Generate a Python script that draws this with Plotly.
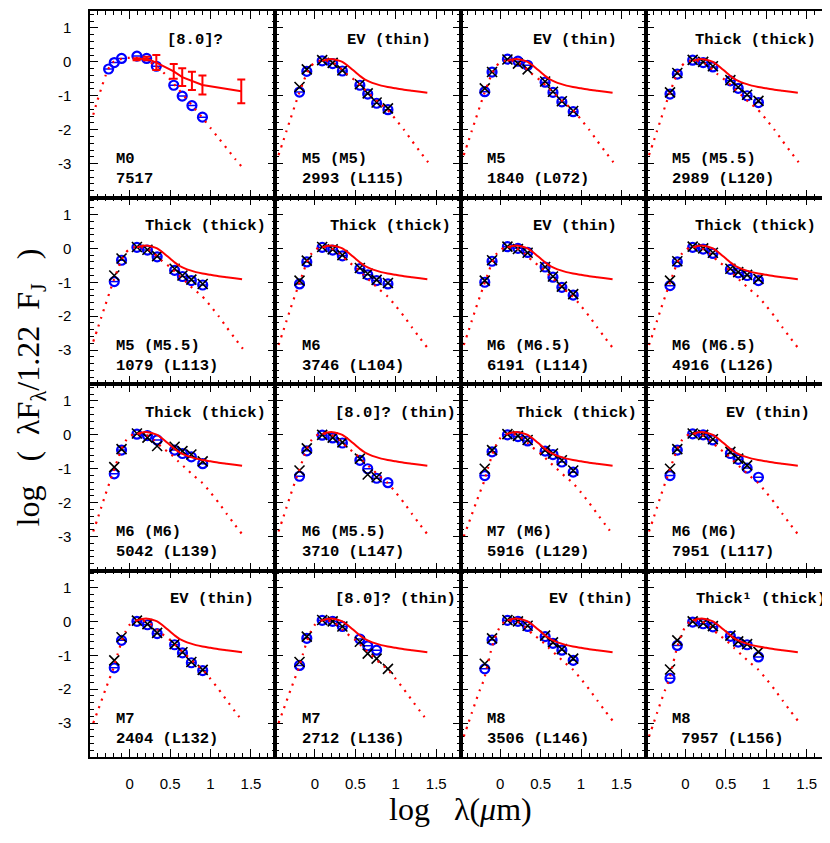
import plotly.graph_objects as go
from plotly.subplots import make_subplots

# ---------------- data ----------------
band_x = [-0.19, -0.10, 0.09, 0.22, 0.34, 0.556, 0.653, 0.763, 0.903]

m0_x = [-0.26, -0.19, -0.10, 0.09, 0.21, 0.33, 0.545, 0.65, 0.77, 0.90]
m0_y = [-0.21, -0.02, 0.10, 0.17, 0.10, -0.13, -0.69, -1.01, -1.29, -1.63]

# median disk SED of panel 1 (with error bars)
m0_med_x = [0.086, 0.21, 0.33, 0.545, 0.65, 0.77, 0.90, 1.38]
m0_med_y = [0.08, 0.10, -0.02, -0.28, -0.45, -0.56, -0.68, -0.87]
m0_med_err = [0.03, 0.05, 0.22, 0.22, 0.26, 0.27, 0.28, 0.35]

# median disk SED (solid red)
med_x = [0.09, 0.15, 0.22, 0.28, 0.34, 0.40, 0.45, 0.50, 0.56, 0.62, 0.68, 0.75,
         0.82, 0.90, 1.00, 1.10, 1.20, 1.30, 1.39]
med_y = [0.03, 0.07, 0.08, 0.05, 0.00, -0.10, -0.20, -0.30, -0.42, -0.52, -0.59,
         -0.65, -0.70, -0.74, -0.78, -0.82, -0.85, -0.88, -0.91]

# photospheres (dotted red)
phot_x = [-0.45, -0.40, -0.35, -0.30, -0.25, -0.20, -0.15, -0.10, -0.05, 0.00, 0.05,
          0.10, 0.15, 0.20, 0.25, 0.30, 0.35, 0.40, 0.50, 0.60, 0.70, 0.80, 0.90,
          1.00, 1.10, 1.20, 1.30, 1.40]
phot_M0 = [-1.56, -1.15, -0.78, -0.42, -0.15, 0.00, 0.06, 0.09, 0.11, 0.12, 0.12,
           0.11, 0.09, 0.05, -0.01, -0.08, -0.16, -0.27, -0.52, -0.80, -1.08, -1.37,
           -1.65, -1.95, -2.25, -2.55, -2.85, -3.13]
phot_M5 = [-2.75, -2.40, -2.03, -1.67, -1.31, -0.96, -0.64, -0.34, -0.13, -0.02, 0.03,
           0.04, 0.03, 0.00, -0.06, -0.15, -0.26, -0.37, -0.55, -0.78, -1.00, -1.22,
           -1.42, -1.70, -2.00, -2.33, -2.65, -2.96]
phot_M6 = [-2.85, -2.50, -2.13, -1.77, -1.42, -1.08, -0.74, -0.42, -0.18, -0.05, 0.02,
           0.04, 0.03, 0.00, -0.06, -0.15, -0.26, -0.37, -0.55, -0.78, -1.00, -1.22,
           -1.42, -1.70, -2.00, -2.33, -2.65, -2.96]
phot_M7 = [-3.00, -2.68, -2.35, -2.02, -1.70, -1.38, -0.98, -0.60, -0.30, -0.10, 0.00,
           0.03, 0.03, 0.00, -0.06, -0.15, -0.26, -0.37, -0.55, -0.78, -1.00, -1.22,
           -1.42, -1.70, -2.00, -2.33, -2.65, -2.96]
phot_M8 = [-3.40, -3.05, -2.70, -2.35, -2.02, -1.72, -1.22, -0.75, -0.40, -0.15, -0.02,
           0.02, 0.02, 0.00, -0.06, -0.15, -0.26, -0.37, -0.55, -0.78, -1.00, -1.22,
           -1.42, -1.70, -2.00, -2.33, -2.65, -2.96]

# observed (blue circles) and other photometry (black crosses), per source
obs_2993 = [-0.89, -0.28, 0.03, -0.05, -0.27, -0.69, -0.95, -1.22, -1.41]
crs_2993 = [-0.74, -0.22, 0.05, -0.03, -0.25, -0.66, -0.93, -1.20, -1.37]
obs_1840 = [-0.88, -0.30, 0.08, 0.02, -0.10, -0.60, -0.90, -1.18, -1.47]
crs_1840 = [-0.78, -0.30, 0.07, -0.05, -0.22, -0.58, -0.88, -1.16, -1.45]
obs_2989 = [-0.95, -0.36, 0.05, -0.02, -0.15, -0.56, -0.78, -1.00, -1.20]
crs_2989 = [-0.90, -0.33, 0.06, 0.00, -0.13, -0.54, -0.75, -0.97, -1.15]
obs_1079 = [-0.98, -0.35, 0.03, -0.05, -0.25, -0.65, -0.83, -0.95, -1.08]
crs_1079 = [-0.80, -0.30, 0.04, -0.04, -0.23, -0.60, -0.80, -0.92, -1.05]
obs_3746 = [-1.05, -0.40, 0.03, -0.05, -0.22, -0.60, -0.78, -0.95, -1.05]
crs_3746 = [-0.95, -0.36, 0.04, -0.03, -0.20, -0.58, -0.75, -0.93, -1.02]
obs_6191 = [-1.00, -0.38, 0.05, 0.00, -0.12, -0.55, -0.85, -1.15, -1.38]
crs_6191 = [-0.95, -0.35, 0.05, -0.02, -0.13, -0.55, -0.83, -1.13, -1.35]
obs_4916 = [-1.10, -0.40, 0.03, -0.02, -0.15, -0.62, -0.72, -0.80, -0.95]
crs_4916 = [-0.95, -0.38, 0.05, 0.00, -0.13, -0.60, -0.70, -0.78, -0.90]
obs_5042 = [-1.15, -0.45, 0.02, -0.02, -0.15, -0.45, -0.55, -0.65, -0.85]
crs_5042 = [-0.95, -0.42, 0.04, -0.08, -0.33, -0.35, -0.48, -0.58, -0.78]
obs_3710 = [-1.22, -0.47, -0.01, -0.09, -0.24, -0.75, -1.00, -1.28, -1.41]
crs_3710 = [-1.05, -0.40, 0.00, -0.08, -0.22, -0.70, -1.17, -1.25, None]
obs_5916 = [-1.20, -0.50, 0.00, -0.05, -0.18, -0.48, -0.58, -0.80, -1.10]
crs_5916 = [-1.00, -0.45, 0.02, -0.03, -0.15, -0.45, -0.55, -0.75, -1.05]
obs_7951 = [-1.20, -0.45, 0.03, 0.00, -0.15, -0.55, -0.72, -0.98, -1.25]
crs_7951 = [-1.00, -0.42, 0.04, 0.00, -0.13, -0.50, -0.70, -0.90, None]
obs_2404 = [-1.37, -0.56, 0.00, -0.10, -0.36, -0.69, -0.93, -1.22, -1.45]
crs_2404 = [-1.15, -0.47, 0.02, -0.08, -0.34, -0.67, -0.91, -1.20, -1.43]
obs_2712 = [-1.30, -0.50, 0.03, 0.00, -0.15, -0.52, -0.72, -0.85, None]
crs_2712 = [-1.20, -0.45, 0.04, 0.00, -0.15, -0.60, -0.95, -1.10, -1.40]
obs_3506 = [-1.40, -0.55, 0.03, 0.00, -0.15, -0.45, -0.65, -0.85, -1.15]
crs_3506 = [-1.25, -0.50, 0.04, 0.00, -0.13, -0.42, -0.62, -0.82, -1.10]
obs_7957 = [-1.68, -0.71, -0.02, -0.07, -0.16, -0.44, -0.61, -0.69, -1.05]
crs_7957 = [-1.42, -0.56, 0.00, -0.05, -0.14, -0.42, -0.59, -0.67, -0.90]

top_labels = ["[8.0]?", "EV (thin)", "EV (thin)", "Thick (thick)",
              "Thick (thick)", "Thick (thick)", "EV (thin)", "Thick (thick)",
              "Thick (thick)", "[8.0]? (thin)", "Thick (thick)", "EV (thin)",
              "EV (thin)", "[8.0]? (thin)", "EV (thin)", "Thick\u00b9 (thick)"]
type_labels = ["M0", "M5 (M5)", "M5", "M5 (M5.5)",
               "M5 (M5.5)", "M6", "M6 (M6.5)", "M6 (M6.5)",
               "M6 (M6)", "M6 (M5.5)", "M7 (M6)", "M6 (M6)",
               "M7", "M7", "M8", "M8"]
id_labels = ["7517", "2993 (L115)", "1840 (L072)", "2989 (L120)",
             "1079 (L113)", "3746 (L104)", "6191 (L114)", "4916 (L126)",
             "5042 (L139)", "3710 (L147)", "5916 (L129)", "7951 (L117)",
             "2404 (L132)", "2712 (L136)", "3506 (L146)", "\u00a07957 (L156)"]
y_ticks = [1, 0, -1, -2, -3]
y_ticktext = ["1", "0", "-1", "-2", "-3"]
x_ticks = [0, 0.5, 1, 1.5]
x_ticktext = ["0", "0.5", "1", "1.5"]

phot_sets = [phot_M0, phot_M5, phot_M5, phot_M5,
             phot_M5, phot_M6, phot_M6, phot_M6,
             phot_M6, phot_M6, phot_M7, phot_M6,
             phot_M7, phot_M7, phot_M8, phot_M8]
obs_sets = [None, obs_2993, obs_1840, obs_2989, obs_1079, obs_3746, obs_6191, obs_4916,
            obs_5042, obs_3710, obs_5916, obs_7951, obs_2404, obs_2712, obs_3506, obs_7957]
crs_sets = [None, crs_2993, crs_1840, crs_2989, crs_1079, crs_3746, crs_6191, crs_4916,
            crs_5042, crs_3710, crs_5916, crs_7951, crs_2404, crs_2712, crs_3506, crs_7957]

# label x-centres (data units) for the top-right labels
top_label_x = [0.81, 0.92, 0.92, 0.87, 0.94, 0.93, 0.92, 0.87,
               0.94, 1.00, 0.95, 1.02, 1.02, 1.00, 1.12, 0.94]

# ---------------- figure ----------------
RED = "#ff0000"
BLUE = "#0000ff"
XR = [-0.49, 1.8]
YR = [-4.0, 1.5]
TXT_FONT = dict(family="Liberation Mono, DejaVu Sans Mono, monospace", size=15.5,
                color="black", weight="bold")

fig = make_subplots(rows=4, cols=4, horizontal_spacing=0, vertical_spacing=0)

for i in range(16):
    r, c = i // 4 + 1, i % 4 + 1
    if i == 0:
        ox, oy = m0_x, m0_y
    else:
        ox, oy = band_x, obs_sets[i]
    # blue circles
    fig.add_trace(go.Scatter(x=ox, y=oy, mode="markers",
                             marker=dict(symbol="circle-open", size=9, color=BLUE,
                                         line=dict(width=2.2, color=BLUE))), row=r, col=c)
    fig.add_trace(go.Scatter(x=ox, y=oy, mode="markers",
                             marker=dict(symbol="line-ew-open", size=6, color=BLUE,
                                         line=dict(width=1.5, color=BLUE))), row=r, col=c)
    if crs_sets[i] is not None:
        fig.add_trace(go.Scatter(x=band_x, y=crs_sets[i], mode="markers",
                                 marker=dict(symbol="x-thin-open", size=10, color="black",
                                             line=dict(width=1.6, color="black"))), row=r, col=c)
    # photosphere
    fig.add_trace(go.Scatter(x=phot_x, y=phot_sets[i], mode="lines",
                             line=dict(color=RED, width=2.2, dash="2px,6px", shape="spline",
                                       smoothing=0.6)), row=r, col=c)
    # median disk
    if i == 0:
        fig.add_trace(go.Scatter(x=m0_med_x, y=m0_med_y, mode="lines",
                                 line=dict(color=RED, width=2),
                                 error_y=dict(type="data", array=m0_med_err, visible=True,
                                              color=RED, thickness=2, width=4)),
                      row=r, col=c)
    else:
        fig.add_trace(go.Scatter(x=med_x, y=med_y, mode="lines",
                                 line=dict(color=RED, width=2, shape="spline", smoothing=0.5)),
                      row=r, col=c)

    axn = "" if i == 0 else str(i + 1)
    fig.add_annotation(x=top_label_x[i], y=0.645, xref="x" + axn, yref="y" + axn,
                       text=top_labels[i], showarrow=False, xanchor="center",
                       yanchor="middle", font=TXT_FONT)
    fig.add_annotation(x=-0.19, y=-2.87, xref="x" + axn, yref="y" + axn,
                       text=type_labels[i], showarrow=False, xanchor="left",
                       yanchor="middle", font=TXT_FONT)
    fig.add_annotation(x=-0.19, y=-3.46, xref="x" + axn, yref="y" + axn,
                       text=id_labels[i], showarrow=False, xanchor="left",
                       yanchor="middle", font=TXT_FONT)

tick_font = dict(family="Liberation Sans, Arial, sans-serif", size=15, color="black")
fig.update_xaxes(range=XR, showline=True, mirror="allticks", linecolor="black", linewidth=1.5,
                 ticks="inside", ticklen=8, tickwidth=1.2, tickcolor="black",
                 tickmode="array", tickvals=x_ticks, ticktext=x_ticktext,
                 minor=dict(ticks="inside", ticklen=4, tickwidth=1, tickcolor="black",
                            tickmode="linear", tick0=0, dtick=0.1),
                 showgrid=False, zeroline=False, showticklabels=False, tickfont=tick_font,
                 ticklabelstandoff=12, automargin=False)
fig.update_yaxes(range=YR, showline=True, mirror="allticks", linecolor="black", linewidth=1.5,
                 ticks="inside", ticklen=8, tickwidth=1.2, tickcolor="black",
                 tickmode="array", tickvals=y_ticks, ticktext=y_ticktext,
                 minor=dict(ticks="inside", ticklen=4, tickwidth=1, tickcolor="black",
                            tickmode="linear", tick0=0, dtick=0.2),
                 showgrid=False, zeroline=False, showticklabels=False, tickfont=tick_font,
                 ticklabelstandoff=14, automargin=False)
for c in range(1, 5):
    fig.update_xaxes(showticklabels=True, row=4, col=c)
for r in range(1, 5):
    fig.update_yaxes(showticklabels=True, row=r, col=1)

serif = "Liberation Serif, DejaVu Serif, serif"
fig.add_annotation(x=0.50, y=-0.07, xref="paper", yref="paper",
                   text="log\u00a0\u00a0\u00a0\u03bb(<i>\u03bc</i>m)", showarrow=False,
                   xanchor="center", yanchor="middle",
                   font=dict(family=serif, size=32, color="black"))
fig.add_annotation(x=-0.08, y=0.495, xref="paper", yref="paper",
                   text=("log\u00a0\u00a0\u00a0(\u00a0\u00a0\u03bbF<sub>\u03bb</sub>/1.22"
                         "\u00a0\u00a0F<sub>J</sub>\u00a0\u00a0\u00a0)"),
                   showarrow=False, textangle=-90, xanchor="center", yanchor="middle",
                   font=dict(family=serif, size=32, color="black"))

fig.update_layout(width=830, height=843, margin=dict(l=82, r=7, t=3, b=94),
                  plot_bgcolor="rgba(0,0,0,0)", paper_bgcolor="white", showlegend=False)

fig.write_html("out.html")
